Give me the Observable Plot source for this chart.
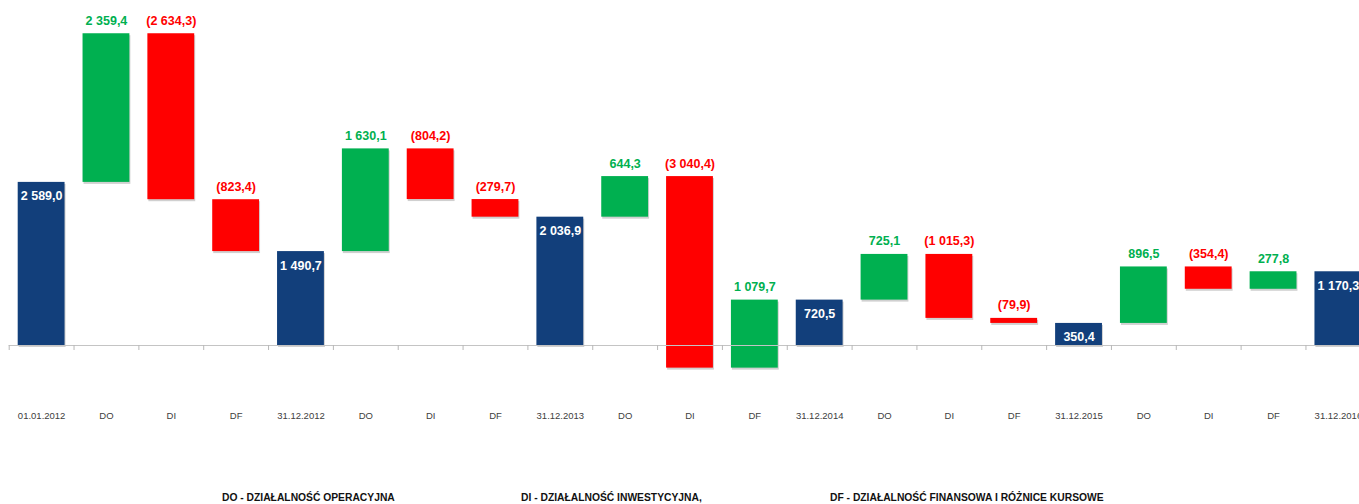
<!DOCTYPE html>
<html>
<head>
<meta charset="utf-8">
<script src="https://cdn.jsdelivr.net/npm/d3@7"></script>
<script src="https://cdn.jsdelivr.net/npm/@observablehq/plot@0.6"></script>
<style>
  html, body { margin: 0; padding: 0; background: #fff; }
  #legend { position: relative; width: 1359px; height: 19px; overflow: hidden;
    font-family: 'Liberation Sans', Arial, sans-serif;
    font-weight: bold; font-size: 10.3px; line-height: 10.3px; color: #111; }
  #legend span { position: absolute; top: 8px; white-space: nowrap; }
</style>
</head>
<body>
<div id="chart"></div>
<div id="legend"></div>
<script>
const labels = ["01.01.2012","DO","DI","DF","31.12.2012","DO","DI","DF","31.12.2013","DO","DI","DF","31.12.2014","DO","DI","DF","31.12.2015","DO","DI","DF","31.12.2016"];
const values = [2589.0, 2359.4, -2634.3, -823.4, 1490.7, 1630.1, -804.2, -279.7, 2036.9, 644.3, -3040.4, 1079.7, 720.5, 725.1, -1015.3, -79.9, 350.4, 896.5, -354.4, 277.8, 1170.3];
const kinds = ["total","delta","delta","delta","total","delta","delta","delta","total","delta","delta","delta","total","delta","delta","delta","total","delta","delta","delta","total"];
const legendItems = ["DO - DZIAŁALNOŚĆ OPERACYJNA", "DI - DZIAŁALNOŚĆ INWESTYCYJNA,", "DF - DZIAŁALNOŚĆ FINANSOWA I RÓŻNICE KURSOWE"];

const NAVY = "#123f7b", GREEN = "#00b050", RED = "#ff0000";
const FONT = "'Liberation Sans', Arial, sans-serif";

const fmt = d3.formatLocale({decimal: ",", thousands: " ", grouping: [3]}).format(",.1f");
const fmtVal = v => v < 0 ? "(" + fmt(-v) + ")" : fmt(v);

let run = 0;
const rows = labels.map((label, i) => {
  const v = values[i], kind = kinds[i];
  let lo, hi;
  if (kind === "total") { lo = 0; hi = v; run = v; }
  else { const s = run; run = s + v; lo = Math.min(s, run); hi = Math.max(s, run); }
  const color = kind === "total" ? NAVY : (v >= 0 ? GREEN : RED);
  return {i, label, value: v, kind, lo, hi, color, text: fmtVal(v)};
});
const totals = rows.filter(d => d.kind === "total");
const deltas = rows.filter(d => d.kind === "delta");

const chart = Plot.plot({
  width: 1359,
  height: 485,
  marginLeft: 0, marginRight: 0, marginTop: 0, marginBottom: 80,
  style: {fontFamily: FONT, color: "#404040", background: "#fff"},
  x: {domain: [0, 21], range: [8.7, 1370.3], axis: null},
  y: {domain: [-1000, 5200], range: [408, 17.4], axis: null},
  marks: [
    Plot.rectY(rows, {x1: d => d.i, x2: d => d.i + 1, y1: "lo", y2: "hi", insetLeft: 9, insetRight: 9,
      fill: "#777", fillOpacity: 0.35, dx: 1, dy: 2}),
    Plot.rectY(rows, {x1: d => d.i, x2: d => d.i + 1, y1: "lo", y2: "hi", insetLeft: 9, insetRight: 9,
      fill: d => d.color}),
    Plot.ruleY([0], {x1: 0, x2: 21, stroke: "#c4c4c4", strokeWidth: 1}),
    Plot.ruleX(d3.range(0, 22), {x: d => d, y1: 0, y2: 0, insetBottom: -5, stroke: "#b8b8b8"}),
    Plot.text(totals, {x: d => d.i + 0.5, y: "hi", text: "text", dy: 14, fill: "#fff",
      fontWeight: "bold", fontSize: 12.5}),
    Plot.text(deltas, {x: d => d.i + 0.5, y: "hi", text: "text", dy: -13,
      fill: d => d.value >= 0 ? GREEN : RED, fontWeight: "bold", fontSize: 12.5}),
    Plot.axisX({ticks: d3.range(21).map(i => i + 0.5), tickFormat: v => labels[Math.floor(v)],
      tickSize: 0, tickPadding: 7, fontSize: 9.5})
  ]
});
document.getElementById("chart").appendChild(chart);

const legendLeft = [222, 521, 830];
const legend = document.getElementById("legend");
legendItems.forEach((t, k) => {
  const s = document.createElement("span");
  s.textContent = t;
  s.style.left = legendLeft[k] + "px";
  legend.appendChild(s);
});
</script>
</body>
</html>
